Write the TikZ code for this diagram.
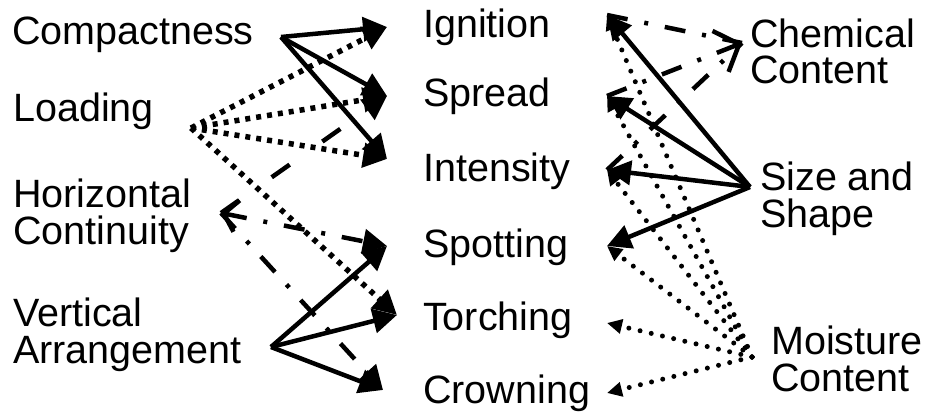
\documentclass[tikz,border=0pt]{standalone}
\usepackage{fontspec}
\setmainfont{Liberation Sans}
\usetikzlibrary{arrows.meta}

\begin{document}
\begin{tikzpicture}[x=1pt,y=-1pt,
	lbl/.style={anchor=base west,inner sep=0pt,align=left,font=\fontsize{39.5}{36.5}\selectfont},
	solidarr/.style={line width=4.5pt,-{Triangle[length=24pt,width=24pt]}},
	loadarr/.style={line width=5.5pt,dash pattern=on 5pt off 6pt,-{Triangle[length=24pt,width=24pt]}},
	moistarr/.style={line width=5pt,line cap=round,dash pattern=on 0pt off 11.5pt,-{Triangle[length=15pt,width=14pt]}},
	dasharr/.style={line width=4.5pt,dash pattern=on 22pt off 40pt,-{Triangle[length=24pt,width=24pt]}},
	dotdash/.style={line width=4.5pt,dash pattern=on 21pt off 17pt on 4pt off 17pt}]
						\useasboundingbox (0,0) rectangle (925,414);
						\node[lbl] (comp) at (12,45) {Compactness};
						\node[lbl] (load) at (13,122) {Loading};
						\node[lbl] (horz) at (13,244) {Horizontal\\Continuity};
						\node[lbl] (vert) at (13,363) {Vertical\\Arrangement};
						\node[lbl] (ign) at (423,38) {Ignition};
						\node[lbl] (spr) at (423,107) {Spread};
						\node[lbl] (int) at (423,182) {Intensity};
						\node[lbl] (spot) at (423,257) {Spotting};
						\node[lbl] (torch) at (423,330) {Torching};
						\node[lbl] (crown) at (423,403) {Crowning};
						\node[lbl] (chem) at (750,84) {Chemical\\Content};
						\node[lbl] (size) at (760,227) {Size and\\Shape};
						\node[lbl] (moist) at (771,391) {Moisture\\Content};
						\coordinate (comp-p) at (281,37);
						\coordinate (load-p) at (191,128);
						\coordinate (horz-p) at (221,213);
						\coordinate (vert-p) at (271,347);
						\coordinate (chem-p) at (742,43);
						\coordinate (size-p) at (750,187);
						\coordinate (moist-p) at (752,357);
						\coordinate (ign-l) at (387,27);
						\coordinate (spr-l) at (387,96);
						\coordinate (int-l) at (387,159);
						\coordinate (spot-l) at (387,246);
						\coordinate (torch-l) at (397,315);
						\coordinate (crown-l) at (383,390);
						\coordinate (ign-r) at (607,15);
						\coordinate (spr-r) at (607,96);
						\coordinate (int-r) at (607,170);
						\coordinate (spot-r) at (607,246);
						\coordinate (torch-r) at (607,323);
						\coordinate (crown-r) at (607,393);
						\draw[loadarr] (load-p) to (ign-l);
						\draw[loadarr] (load-p) to (spr-l);
						\draw[loadarr] (load-p) to (int-l);
						\draw[loadarr] (load-p) to (torch-l);
						\draw[dasharr] (horz-p) to (spr-l);
						\draw[dotdash,{Straight Barb[length=13pt,width=32pt]}-{Triangle[length=24pt,width=24pt]}] (horz-p) to (spot-l);
						\draw[dotdash,-{Triangle[length=24pt,width=24pt]}] (horz-p) to (crown-l);
						\draw[solidarr] (comp-p) to (ign-l);
						\draw[solidarr] (comp-p) to (spr-l);
						\draw[solidarr] (comp-p) to (int-l);
						\draw[solidarr] (vert-p) to (spot-l);
						\draw[solidarr] (vert-p) to (torch-l);
						\draw[solidarr] (vert-p) to (crown-l);
						\draw[moistarr] (moist-p) to (ign-r);
						\draw[moistarr] (moist-p) to (spr-r);
						\draw[moistarr] (moist-p) to (int-r);
						\draw[moistarr] (moist-p) to (spot-r);
						\draw[moistarr] (moist-p) to (torch-r);
						\draw[moistarr] (moist-p) to (crown-r);
						\draw[dotdash] (ign-r) to (chem-p);
						\draw[dotdash,-{Straight Barb[length=20pt,width=44pt]}] (spr-r) to (chem-p);
						\draw[dotdash] (int-r) to (chem-p);
						\draw[solidarr] (size-p) to (ign-r);
						\draw[solidarr] (size-p) to (spr-r);
						\draw[solidarr] (size-p) to (int-r);
						\draw[solidarr] (size-p) to (spot-r);
					\end{tikzpicture}
\end{document}
